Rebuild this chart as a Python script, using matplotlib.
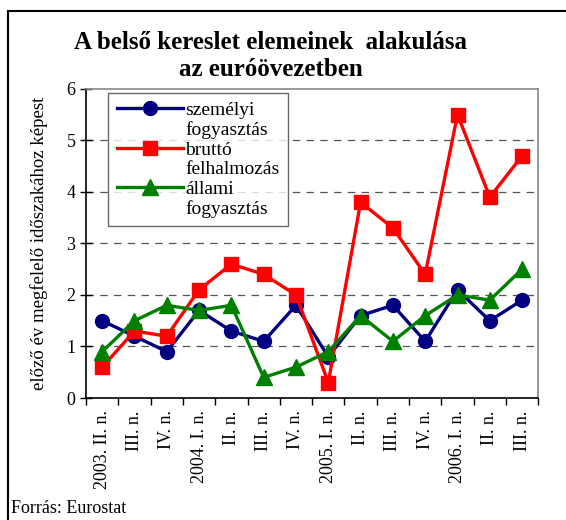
import matplotlib
matplotlib.use("Agg")
import matplotlib.pyplot as plt
from matplotlib.lines import Line2D

plt.rcParams["font.family"] = ["Liberation Serif", "DejaVu Serif"]

quarters = ["2003. II. n.", "III. n.", "IV. n.", "2004. I. n.", "II. n.", "III. n.",
            "IV. n.", "2005. I. n.", "II. n.", "III. n.", "IV. n.", "2006. I. n.",
            "II. n.", "III. n."]
szemelyi = [1.5, 1.2, 0.9, 1.7, 1.3, 1.1, 1.8, 0.8, 1.6, 1.8, 1.1, 2.1, 1.5, 1.9]
brutto = [0.6, 1.3, 1.2, 2.1, 2.6, 2.4, 2.0, 0.3, 3.8, 3.3, 2.4, 5.5, 3.9, 4.7]
allami = [0.9, 1.5, 1.8, 1.7, 1.8, 0.4, 0.6, 0.9, 1.6, 1.1, 1.6, 2.0, 1.9, 2.5]
series_names = [("személyi", "fogyasztás"), ("bruttó", "felhalmozás"),
                ("állami", "fogyasztás")]

fig = plt.figure(figsize=(5.66, 5.2), dpi=100)
ax = fig.add_axes([0.152, 0.2346, 0.799, 0.5944])

x = list(range(len(quarters)))
l1, = ax.plot(x, szemelyi, color="#000080", lw=2.4, marker="o", ms=10, zorder=3)
l2, = ax.plot(x, brutto, color="#FF0000", lw=2.4, marker="s", ms=10, zorder=3)
l3, = ax.plot(x, allami, color="#008000", lw=2.4, marker="^", ms=11, zorder=3)

ax.set_xlim(-0.5, len(quarters) - 0.5)
ax.set_ylim(0, 6)
ax.set_yticks(range(0, 7))
ax.tick_params(axis="y", direction="inout", length=8, labelsize=13, width=1)
ax.set_xticks(x)
ax.set_xticklabels(quarters, rotation=90, fontsize=13)
ax.set_xticks([i - 0.5 for i in range(len(quarters) + 1)], minor=True)
ax.tick_params(axis="x", which="major", length=0, pad=9)
ax.tick_params(axis="x", which="minor", direction="out", length=5, width=1)

for y in range(1, 6):
    ax.axhline(y, color="#555555", lw=0.9, ls=(0, (6, 5)), zorder=1)

for side in ["top", "right"]:
    ax.spines[side].set_color("#888888")
    ax.spines[side].set_linewidth(1.2)
for side in ["left", "bottom"]:
    ax.spines[side].set_color("black")
    ax.spines[side].set_linewidth(1.2)

ax.set_ylabel("előző év megfelelő időszakához képest", fontsize=13.5, labelpad=13)

# each series takes two legend rows: handle next to the first word only
blank = Line2D([], [], color="none")
handles, labels = [], []
for line, (first, second) in zip([l1, l2, l3], series_names):
    handles += [line, blank]
    labels += [first, second]

leg = ax.legend(handles, labels, loc="upper left", bbox_to_anchor=(0.049, 0.987),
                borderaxespad=0, fontsize=14, frameon=True, fancybox=False,
                edgecolor="#444444", handlelength=3.4, handletextpad=0.1,
                labelspacing=0.1, borderpad=0.45)
leg.get_frame().set_linewidth(1.0)

fig.text(0.478, 0.892, "A belső kereslet elemeinek  alakulása\naz euróövezetben",
         ha="center", va="center", fontsize=18, fontweight="bold",
         linespacing=1.25)
fig.text(0.02, 0.023, "Forrás: Eurostat", fontsize=13, ha="left", va="center")

fig.add_artist(Line2D([0.014, 1.0], [0.979, 0.979], color="black", lw=1.5,
                      transform=fig.transFigure))
fig.add_artist(Line2D([0.014, 0.014], [0.0, 0.979], color="black", lw=1.5,
                      transform=fig.transFigure))

fig.savefig("out.png", dpi=100)
